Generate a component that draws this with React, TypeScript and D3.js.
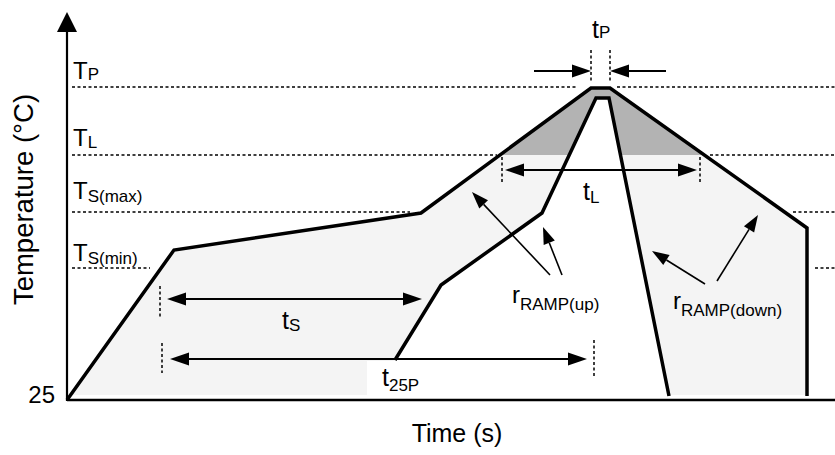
import React from "react";
import * as d3 from "d3";

// ---- Data (schematic reflow profile) ----
const levelNames = ["P", "L", "S(max)", "S(min)"];
const levelTemps = [338, 270, 213, 157];
const levelLabelBase = [79, 146, 199, 261]; // label baselines (px)
const levelLabelSubDy = [1, 2, 3, 3];
const levelLeftEnd = [255, 215, 171.5, 41.5]; // time where left dashed segment stops
const levelRightStart = [275, 321.5, 363, 374]; // time where right dashed segment starts

const outerTime = [0, 53.5, 177, 262, 271.5, 370, 370];
const outerTemp = [25, 175, 212, 337, 337, 197, 29];
const innerTime = [164, 187, 237.5, 264.5, 271, 301];
const innerTemp = [65, 140, 212, 327, 327, 29];

const baseTemp = 25;
const fillBaseTemp = 30;

// double arrows: [t1, t2, temp]
const spanNames = ["tS", "t25P", "tL"];
const spanFrom = [50, 51.5, 219];
const spanTo = [177.5, 260, 315];
const spanTemp = [126, 66, 255];
// marker dashed verticals [time, tempTop, tempBottom]
const markerTime = [46.5, 47.5, 263.5, 217.5, 316.5, 262, 271.5];
const markerTop = [139, 82, 85, 268, 268, 375, 375];
const markerBottom = [108, 52, 48, 242, 242, 342, 342];

// ramp arrows: from (t,T) to tip (t,T)
const rampFromT = [241.5, 247.5, 319, 325];
const rampFromY = [150, 150, 141, 144];
const rampToT = [202.5, 238, 292.5, 345.5];
const rampToY = [233, 198, 174, 210];

const W = 835;
const H = 455;
const FONT = "'Liberation Sans', Arial, Helvetica, sans-serif";

const x = d3.scaleLinear().domain([0, 384]).range([67, 835]);
const y = d3.scaleLinear().domain([25, 338]).range([400, 87]);

function head(x1: number, y1: number, x2: number, y2: number, len: number, hw: number) {
  const dx = x2 - x1, dy = y2 - y1;
  const d = Math.hypot(dx, dy);
  const ux = dx / d, uy = dy / d;
  const bx = x2 - ux * len, by = y2 - uy * len;
  const px = -uy, py = ux;
  return {
    pts: `${x2},${y2} ${bx + px * hw},${by + py * hw} ${bx - px * hw},${by - py * hw}`,
    bx,
    by,
  };
}

function Arrow({ x1, y1, x2, y2, len, hw, sw }: any) {
  const h = head(x1, y1, x2, y2, len, hw);
  return (
    <g>
      <line x1={x1} y1={y1} x2={h.bx} y2={h.by} stroke="#000" strokeWidth={sw} />
      <polygon points={h.pts} fill="#000" />
    </g>
  );
}

function DoubleArrow({ x1, x2, yy }: any) {
  const len = 19, hw = 6.5;
  return (
    <g>
      <line x1={x1 + len} y1={yy} x2={x2 - len} y2={yy} stroke="#000" strokeWidth={2} />
      <polygon points={head(x2, yy, x1, yy, len, hw).pts} fill="#000" />
      <polygon points={head(x1, yy, x2, yy, len, hw).pts} fill="#000" />
    </g>
  );
}

export default function App() {
  const line = d3
    .line<[number, number]>()
    .x((d) => x(d[0]))
    .y((d) => y(d[1]));
  const outer: [number, number][] = outerTime.map((t, i) => [t, outerTemp[i]]);
  const inner: [number, number][] = innerTime.map((t, i) => [t, innerTemp[i]]);
  const innerWhite: [number, number][] = [
    ...inner,
    [innerTime[innerTime.length - 1], baseTemp],
    [innerTime[0], baseTemp],
  ];

  return (
    <svg
      width={W}
      height={H}
      style={{ position: "absolute", left: 0, top: 0, background: "#fff" }}
      fontFamily={FONT}
    >
      <defs>
        <clipPath id="clipBase">
          <rect x={0} y={0} width={W} height={y(fillBaseTemp)} />
        </clipPath>
        <clipPath id="clipLiquid">
          <rect x={0} y={0} width={W} height={y(levelTemps[1])} />
        </clipPath>
      </defs>
      <rect x={0} y={0} width={W} height={H} fill="#fff" />

      {/* level dashed lines */}
      {levelTemps.map((T, i) => (
        <g key={"lv" + i}>
          <line
            x1={x(2.5)}
            x2={x(levelLeftEnd[i])}
            y1={y(T)}
            y2={y(T)}
            stroke="#000"
            strokeWidth={1.5}
            strokeDasharray="3,2.5"
          />
          <line
            x1={x(levelRightStart[i])}
            x2={W}
            y1={y(T)}
            y2={y(T)}
            stroke="#000"
            strokeWidth={1.5}
            strokeDasharray="3,2.5"
          />
        </g>
      ))}

      {/* fills */}
      <path d={line(outer) + "Z"} fill="#f4f4f4" clipPath="url(#clipBase)" />
      <path d={line(outer) + "Z"} fill="#b3b3b3" clipPath="url(#clipLiquid)" />
      <path d={line(innerWhite) + "Z"} fill="#fff" />
      <rect x={367} y={361} width={33} height={y(fillBaseTemp) - 361 + 1} fill="#fff" />

      {/* axes */}
      <line x1={x(0)} y1={y(baseTemp)} x2={W} y2={y(baseTemp)} stroke="#000" strokeWidth={2.5} />
      <line x1={x(0)} y1={y(baseTemp) + 1} x2={x(0)} y2={30} stroke="#000" strokeWidth={2.2} />
      <polygon points={`${x(0)},12 ${x(0) - 10},32 ${x(0) + 10},32`} fill="#000" />

      {/* profile lines */}
      <path d={line(outer) || ""} fill="none" stroke="#000" strokeWidth={3.5} />
      <path d={line(inner) || ""} fill="none" stroke="#000" strokeWidth={3.5} />

      {/* markers */}
      {markerTime.map((t, i) => (
        <line
          key={"mk" + i}
          x1={x(t)}
          x2={x(t)}
          y1={y(markerTop[i])}
          y2={y(markerBottom[i])}
          stroke="#000"
          strokeWidth={1.5}
          strokeDasharray="3,2.5"
        />
      ))}

      {/* span arrows */}
      {spanNames.map((n, i) => (
        <DoubleArrow key={n} x1={x(spanFrom[i])} x2={x(spanTo[i])} yy={y(spanTemp[i])} />
      ))}
      {/* tP arrows */}
      <Arrow x1={x(233.5)} y1={y(354)} x2={x(262)} y2={y(354)} len={19} hw={6.5} sw={2} />
      <Arrow x1={x(299.5)} y1={y(354)} x2={x(271.5)} y2={y(354)} len={19} hw={6.5} sw={2} />

      {/* ramp arrows */}
      {rampFromT.map((t, i) => (
        <Arrow
          key={"rp" + i}
          x1={x(t)}
          y1={y(rampFromY[i])}
          x2={x(rampToT[i])}
          y2={y(rampToY[i])}
          len={17}
          hw={6}
          sw={1.6}
        />
      ))}

      {/* texts */}
      <text x={55} y={403} fontSize={24} textAnchor="end">
        25
      </text>
      {levelNames.map((n, i) => (
        <text key={"lt" + i} x={73} y={levelLabelBase[i]} fontSize={24}>
          T
          <tspan fontSize={17} dy={levelLabelSubDy[i]}>
            {n}
          </tspan>
        </text>
      ))}
      <text x={592} y={38} fontSize={25}>
        t<tspan fontSize={17}>P</tspan>
      </text>
      <text x={583} y={200} fontSize={25}>
        t<tspan fontSize={17} dy={3}>L</tspan>
      </text>
      <text x={282} y={329} fontSize={25}>
        t<tspan fontSize={17} dy={2}>S</tspan>
      </text>
      <text x={382} y={386} fontSize={25}>
        t<tspan fontSize={17} dy={5}>25P</tspan>
      </text>
      <text x={512} y={303} fontSize={24}>
        r<tspan fontSize={17} dy={7}>RAMP(up)</tspan>
      </text>
      <text x={673} y={309} fontSize={24}>
        r<tspan fontSize={17} dy={7}>RAMP(down)</tspan>
      </text>

      <text x={457} y={442} fontSize={25} textAnchor="middle">
        Time (s)
      </text>
      <text transform="translate(33,199.5) rotate(-90)" fontSize={27.5} textAnchor="middle">
        Temperature (°C)
      </text>
    </svg>
  );
}
